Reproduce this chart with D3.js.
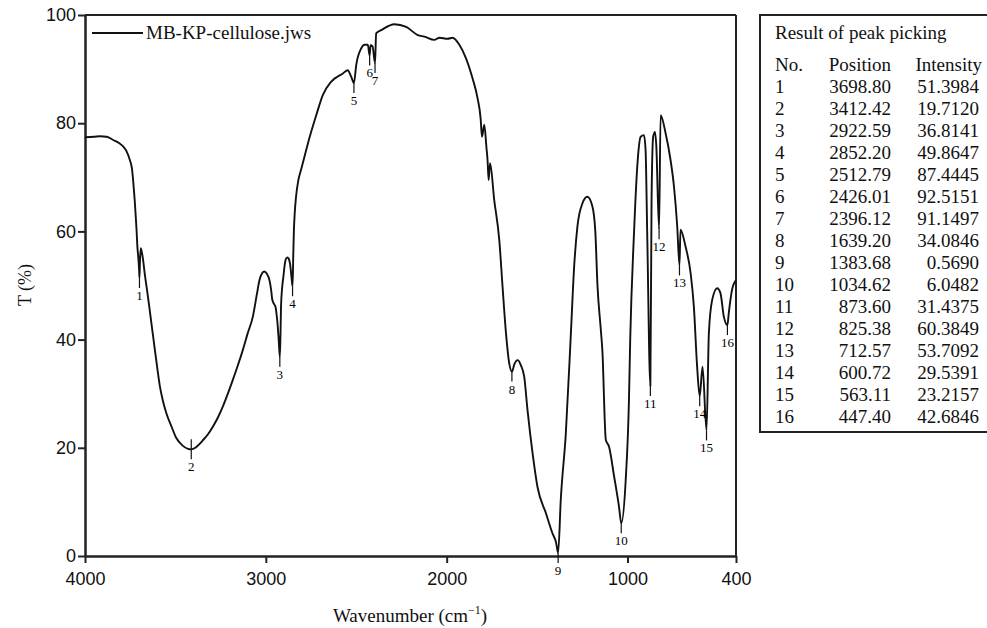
<!DOCTYPE html>
<html>
<head>
<meta charset="utf-8">
<script src="https://cdn.jsdelivr.net/npm/d3@7"></script>
<style>
  html, body { margin: 0; padding: 0; background: #fff; }
  svg { display: block; }
</style>
</head>
<body>
<svg id="chart" width="987" height="628"></svg>
<script>
// ---- Data ----
const wavenumber = [
  4000, 3950, 3917, 3880, 3844, 3810, 3789, 3770, 3752, 3740, 3734, 3728, 3724, 3718, 3715, 3710, 3706, 3701,
  3698.8, 3696, 3692, 3686, 3679, 3669, 3655, 3642, 3628, 3614, 3600, 3587, 3570, 3550, 3520, 3495, 3460, 3430,
  3412.42, 3390, 3370, 3348, 3320, 3293, 3265, 3238, 3210, 3183, 3155, 3127, 3100, 3072, 3050, 3035, 3020, 3008,
  2995, 2980, 2970, 2965, 2955, 2947, 2940, 2934, 2928, 2922.59, 2919, 2916, 2910, 2903, 2895, 2888, 2880, 2874,
  2866, 2858, 2852.2, 2848, 2845, 2840, 2833, 2820, 2806, 2785, 2767, 2721, 2685, 2638, 2574, 2547, 2528,
  2512.79, 2500, 2473, 2454, 2436, 2426.01, 2421, 2410, 2396.12, 2390, 2362, 2289, 2224, 2160, 2123, 2068,
  2040, 1995, 1967, 1930, 1893, 1857, 1829, 1812, 1805, 1792, 1780, 1774, 1768, 1760, 1737, 1709, 1691, 1672,
  1654, 1639.2, 1625, 1608, 1590, 1571, 1553, 1525, 1498, 1451, 1415, 1395, 1383.68, 1369, 1341, 1313, 1295,
  1277, 1249, 1222, 1194, 1178, 1166, 1148, 1139, 1120, 1102, 1074, 1047, 1034.62, 1010, 992, 985, 964, 946,
  927, 909, 900, 891, 873.6, 867, 858, 848, 841, 825.38, 817, 789, 762, 743, 725, 712.57, 707, 679, 651, 633,
  615, 600.72, 585, 563.11, 550, 532, 504, 486, 467, 447.4, 440, 422, 400
];
const transmittance = [
  77.4, 77.5, 77.6, 77.5, 76.9, 76.3, 75.7, 74.8, 73.2, 71.5, 69.5, 67.0, 65.2, 62.0, 60.3, 57.0, 55.5, 53.0,
  51.4, 54.5, 56.9, 56.2, 54.8, 52.0, 48.7, 45.4, 41.8, 38.2, 34.7, 31.6, 28.8, 26.4, 23.8, 21.8, 20.4, 19.8,
  19.71, 20.0, 20.6, 21.4, 22.5, 23.9, 25.6, 27.6, 30.0, 32.5, 35.2, 38.1, 41.2, 44.2, 48.3, 51.0, 52.3, 52.6,
  52.2, 51.0, 49.0, 47.5, 46.6, 46.1, 44.5, 42.4, 39.5, 36.8, 41.0, 46.1, 49.5, 51.6, 54.0, 55.0, 55.2, 55.0,
  54.0, 51.5, 49.86, 56.0, 60.0, 63.5, 66.4, 69.5, 71.3, 74.0, 76.3, 81.5, 85.2, 87.7, 89.2, 89.8, 88.6,
  87.44, 90.8, 93.8, 94.5, 94.5, 92.52, 94.4, 94.2, 91.15, 96.6, 97.2, 98.3, 97.8, 96.3, 96.0, 95.4,
  95.8, 95.6, 95.8, 94.5, 92.0, 88.3, 84.6, 80.8, 77.5, 79.7, 75.5, 73.2, 69.5, 72.6, 65.8, 58.4, 49.8, 41.2,
  35.6, 34.08, 35.5, 36.2, 35.3, 33.1, 27.0, 19.0, 12.8, 7.9, 4.2, 2.5, 0.57, 10.4, 22.7, 41.2, 53.5,
  60.9, 65.2, 66.4, 64.6, 60.0, 50.0, 42.0, 38.0, 21.5, 20.2, 14.7, 9.1, 6.05, 14.0, 28.8, 40.0, 59.7, 72.0,
  77.5, 77.8, 75.0, 59.7, 31.44, 65.8, 77.5, 78.4, 76.0, 60.38, 81.5, 78.1, 73.2, 68.3, 60.9, 53.71, 60.3, 57.2, 52.3, 46.1,
  35.0, 29.54, 35.0, 23.22, 41.2, 47.3, 49.5, 48.6, 44.2, 42.68, 44.9, 49.2, 51.0
];

const peakNo = [1, 2, 3, 4, 5, 6, 7, 8, 9, 10, 11, 12, 13, 14, 15, 16];
const peakPosition = ["3698.80", "3412.42", "2922.59", "2852.20", "2512.79", "2426.01", "2396.12", "1639.20",
  "1383.68", "1034.62", "873.60", "825.38", "712.57", "600.72", "563.11", "447.40"];
const peakIntensity = ["51.3984", "19.7120", "36.8141", "49.8647", "87.4445", "92.5151", "91.1497", "34.0846",
  "0.5690", "6.0482", "31.4375", "60.3849", "53.7092", "29.5391", "23.2157", "42.6846"];

const xTicks = [4000, 3000, 2000, 1000, 400];
const yTicks = [0, 20, 40, 60, 80, 100];

const legendLabel = "MB-KP-cellulose.jws";
const tableTitle = "Result of peak picking";
const tableHeaders = ["No.", "Position", "Intensity"];

// ---- Layout ----
const svg = d3.select("#chart");
const L = 85, R = 736, T = 15, B = 556;
const serif = "'Liberation Serif', 'Times New Roman', serif";
const sans = "'Liberation Sans', Arial, sans-serif";

const x = d3.scaleLinear().domain([4000, 400]).range([L, R]);
const y = d3.scaleLinear().domain([0, 100]).range([B, T]);

// frame (top + right)
svg.append("line").attr("x1", L).attr("x2", R).attr("y1", T).attr("y2", T)
  .attr("stroke", "#222").attr("stroke-width", 2);
svg.append("line").attr("x1", R).attr("x2", R).attr("y1", T).attr("y2", B)
  .attr("stroke", "#222").attr("stroke-width", 2);

// axes
const xAxis = svg.append("g").attr("transform", `translate(0,${B})`)
  .call(d3.axisBottom(x).tickValues(xTicks).tickFormat(d3.format("d")).tickSize(7).tickPadding(9).tickSizeOuter(0));
const yAxis = svg.append("g").attr("transform", `translate(${L},0)`)
  .call(d3.axisLeft(y).tickValues(yTicks).tickSize(7).tickPadding(2).tickSizeOuter(0));
[xAxis, yAxis].forEach(g => {
  g.select(".domain").attr("stroke", "#222").attr("stroke-width", 2.5);
  g.selectAll(".tick line").attr("stroke", "#222").attr("stroke-width", 2);
  g.selectAll(".tick text").attr("fill", "#111").style("font-family", sans).style("font-size", "18px");
});

// axis titles
svg.append("text").attr("x", 410).attr("y", 622).attr("text-anchor", "middle")
  .style("font-family", serif).style("font-size", "19px").attr("fill", "#111")
  .html('Wavenumber (cm<tspan dy="-8" font-size="12px">−1</tspan><tspan dy="8">)</tspan>');
svg.append("text").attr("transform", "translate(31,285) rotate(-90)").attr("text-anchor", "middle")
  .style("font-family", serif).style("font-size", "18px").attr("fill", "#111").text("T (%)");

// spectrum
const spectrum = wavenumber.map((w, i) => ({ w, t: transmittance[i] }));
const line = d3.line().x(d => x(d.w)).y(d => y(d.t)).curve(d3.curveMonotoneX);
svg.append("path").datum(spectrum).attr("d", line)
  .attr("fill", "none").attr("stroke", "#111").attr("stroke-width", 1.9).attr("stroke-linejoin", "round");

// peak markers
const peaks = peakNo.map((n, i) => ({ n, w: +peakPosition[i], t: +peakIntensity[i] }));
const pg = svg.append("g");
peaks.forEach(p => {
  const px = x(p.w), py = y(p.t);
  pg.append("line").attr("x1", px).attr("x2", px)
    .attr("y1", p.n === 2 ? py - 10 : py).attr("y2", py + 10)
    .attr("stroke", "#111").attr("stroke-width", 1.2);
  pg.append("text").attr("x", px).attr("y", py + 22).attr("text-anchor", "middle")
    .style("font-family", serif).style("font-size", "13px").attr("fill", "#000").text(p.n);
});

// legend
svg.append("line").attr("x1", 92).attr("x2", 143).attr("y1", 33).attr("y2", 33)
  .attr("stroke", "#111").attr("stroke-width", 2);
svg.append("text").attr("x", 146).attr("y", 39).style("font-family", serif).style("font-size", "19px")
  .attr("fill", "#111").text(legendLabel);

// peak table
svg.append("rect").attr("x", 760).attr("y", 15).attr("width", 240).attr("height", 417)
  .attr("fill", "none").attr("stroke", "#222").attr("stroke-width", 2);
const tg = svg.append("g").style("font-family", serif).style("font-size", "19px").attr("fill", "#111");
tg.append("text").attr("x", 775).attr("y", 39).text(tableTitle);
const rowY = i => 71 + i * 22;
tg.append("text").attr("x", 775).attr("y", rowY(0)).text(tableHeaders[0]);
tg.append("text").attr("x", 891).attr("y", rowY(0)).attr("text-anchor", "end").text(tableHeaders[1]);
tg.append("text").attr("x", 982).attr("y", rowY(0)).attr("text-anchor", "end").text(tableHeaders[2]);
peakNo.forEach((n, i) => {
  tg.append("text").attr("x", 775).attr("y", rowY(i + 1)).text(n);
  tg.append("text").attr("x", 891).attr("y", rowY(i + 1)).attr("text-anchor", "end").text(peakPosition[i]);
  tg.append("text").attr("x", 979).attr("y", rowY(i + 1)).attr("text-anchor", "end").text(peakIntensity[i]);
});
</script>
</body>
</html>
